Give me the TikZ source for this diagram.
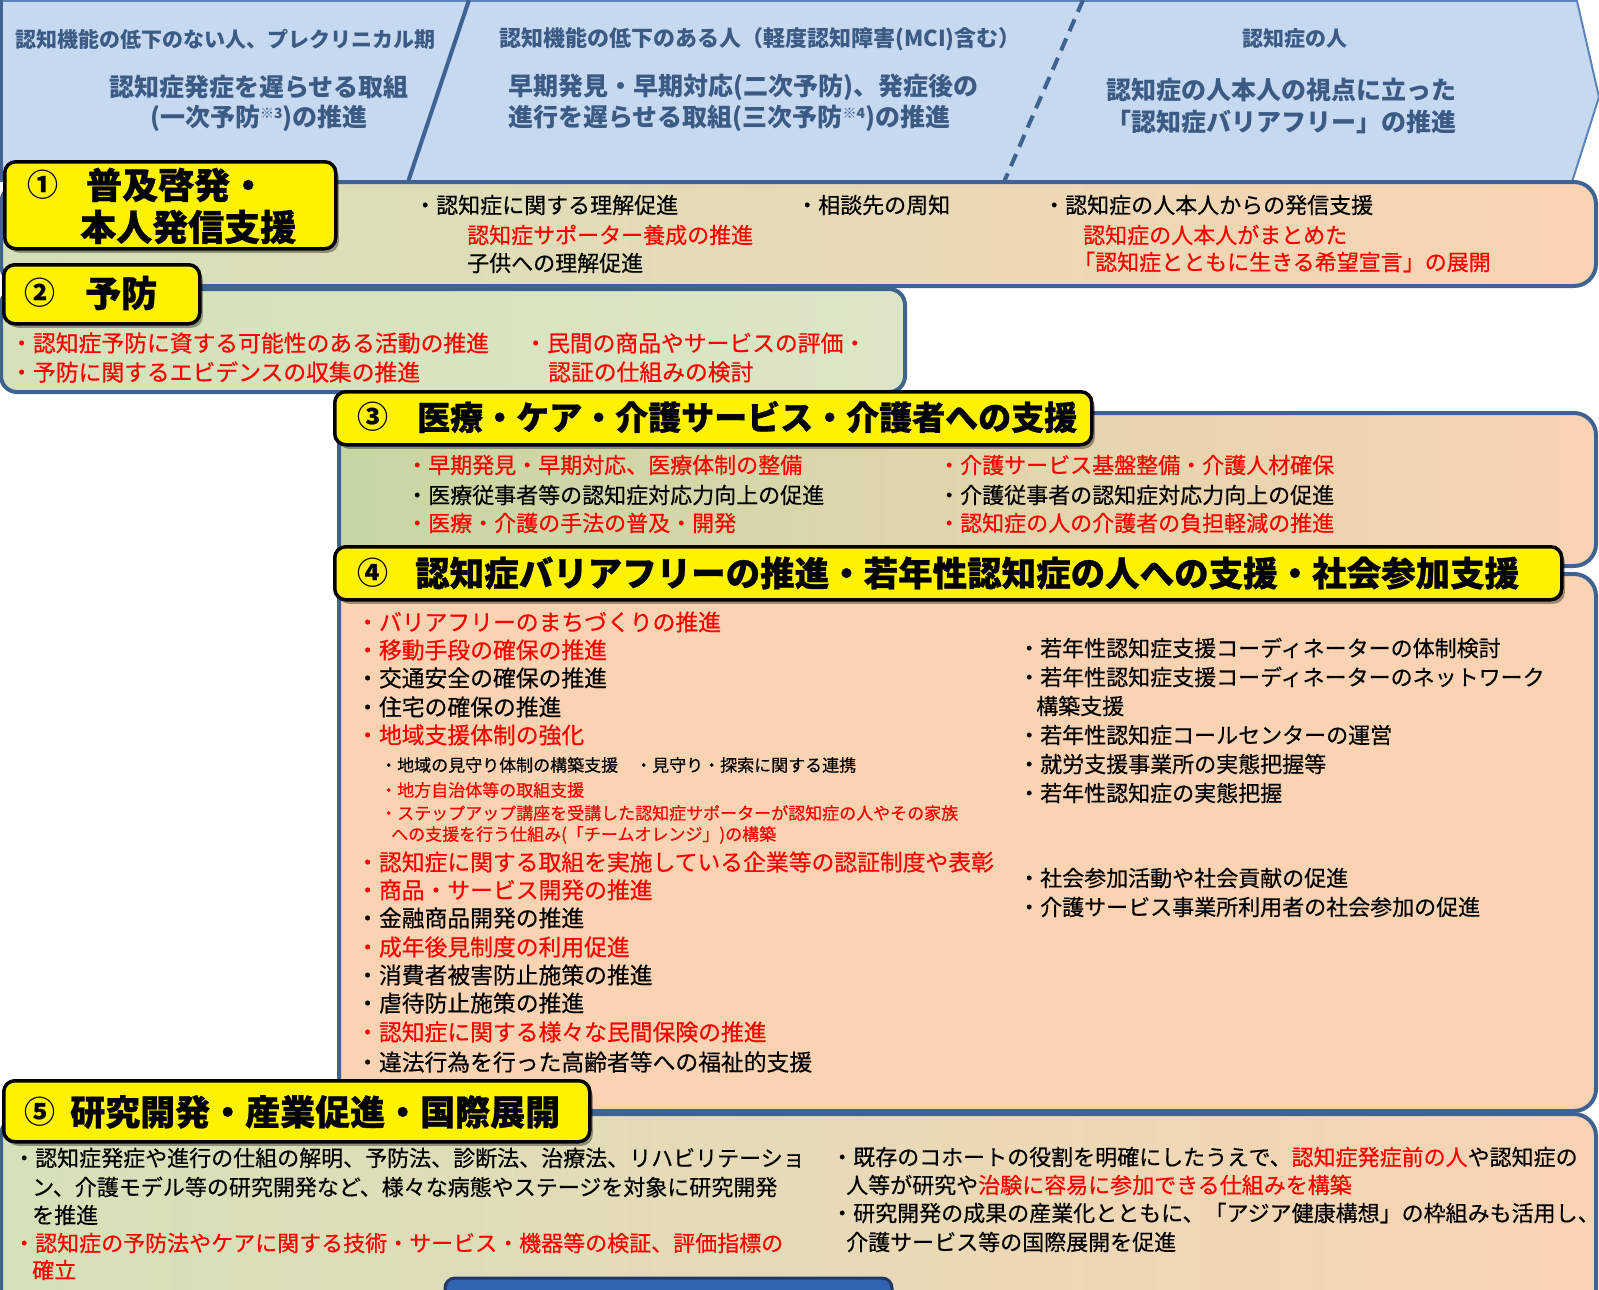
\documentclass[tikz,border=0pt]{standalone}
\usepackage{fontspec}
\newfontfamily\jp{Noto Sans CJK JP}
\newfontfamily\jpr{Noto Sans CJK JP}[FakeBold=0.5]
\newfontfamily\jpb{Noto Sans CJK JP}[BoldFeatures={FakeBold=0.8}]
\usetikzlibrary{shadows}
\definecolor{hdrfill}{HTML}{C6D9F1}
\definecolor{hdrtxt}{HTML}{3B5B85}
\definecolor{hdrline}{HTML}{5B84B8}
\definecolor{bord}{HTML}{3F6391}
\definecolor{grn}{HTML}{D4E1B9}
\definecolor{grnthree}{HTML}{C6D7A4}
\definecolor{grntwo}{HTML}{DCE6C6}
\definecolor{peach}{HTML}{FAD3B3}
\definecolor{txtred}{HTML}{FF0000}
\definecolor{boxblue}{HTML}{3163B0}
\definecolor{boxbord}{HTML}{1F3864}
\tikzset{
 panel/.style={draw=bord, line width=4pt, rounded corners=22pt},
 lblbox/.style={draw=black, line width=3.5pt, fill=yellow, rounded corners=11pt, anchor=north west, inner sep=0pt,
   drop shadow={shadow xshift=3pt, shadow yshift=-4pt, opacity=0.35, fill=black}},
 hd/.style={font=\jp\bfseries\fontsize{21pt}{21pt}\selectfont, text=hdrtxt, inner sep=0pt},
 hdb/.style={font=\jp\bfseries\fontsize{25pt}{25pt}\selectfont, text=hdrtxt, inner sep=0pt},
 lbltxt/.style={font=\jpb\bfseries\fontsize{36pt}{36pt}\selectfont, anchor=west, inner sep=0pt},
 lbltxtm/.style={font=\jpb\bfseries\fontsize{33pt}{33pt}\selectfont, anchor=west, inner sep=0pt},
 lblnum/.style={font=\jp\bfseries\fontsize{31pt}{31pt}\selectfont, inner sep=0pt},
 bd/.style={font=\jpr\fontsize{22pt}{22pt}\selectfont, anchor=west, inner sep=0pt},
 bdl/.style={font=\jpr\fontsize{22.8pt}{22.8pt}\selectfont, anchor=west, inner sep=0pt},
 rd/.style={bd, text=txtred},
 rdl/.style={bdl, text=txtred},
 sm/.style={font=\jpr\fontsize{17pt}{17pt}\selectfont, anchor=west, inner sep=0pt},
 smr/.style={sm, text=txtred},
}
\begin{document}
\begin{tikzpicture}[x=1pt,y=-1pt]
\useasboundingbox (0,0) rectangle (1599,1290);
% header band
\fill[hdrfill] (0,0) -- (1577,0) -- (1599,97) -- (1572,182) -- (0,182) -- cycle;
\draw[hdrline, line width=2pt] (0,1) -- (1577,1) -- (1599,97) -- (1572,182);
\draw[bord, line width=4pt] (1,0) -- (1,182);
\coordinate (d1a) at (469,0); \coordinate (d1b) at (408,182);
\coordinate (d2a) at (1083,0); \coordinate (d2b) at (1004,182);
\draw[bord, line width=4pt] (d1a) -- (d1b);
\draw[bord, line width=4pt, dash pattern=on 13pt off 8pt] (d2a) -- (d2b);
\node[hd] (h1) at (226,39) {認知機能の低下のない人、プレクリニカル期};
\node[hdb] (h2) at (259,87) {認知症発症を遅らせる取組};
\node[hdb] (h3) at (259,118) {(一次予防{\fontsize{14pt}{14pt}\selectfont\raisebox{8pt}{※3}})の推進};
\node[hd, font=\jp\bfseries\fontsize{22pt}{22pt}\selectfont] (h4) at (760,39) {認知機能の低下のある人（軽度認知障害(MCI)含む）};
\node[hdb, anchor=west] (h5) at (508,87) {早期発見・早期対応(二次予防)、発症後の};
\node[hdb, anchor=west] (h6) at (508,118) {進行を遅らせる取組(三次予防{\fontsize{14pt}{14pt}\selectfont\raisebox{8pt}{※4}})の推進};
\node[hd] (h7) at (1295,39) {認知症の人};
\node[hdb] (h8) at (1281,90) {認知症の人本人の視点に立った};
\node[hdb] (h9) at (1281,122) {「認知症バリアフリー」の推進};
% panels
\draw[panel, left color=grn, right color=peach] (1,182) rectangle (1596,286);
\draw[panel, left color=grn, right color=grntwo, rounded corners=16pt] (1,289) rectangle (905,392);
\draw[panel, left color=grnthree, right color=peach] (339,413) rectangle (1596,566);
\draw[panel, fill=peach] (339,574) rectangle (1596,1111);
\draw[panel, left color=grn, right color=peach] (1,1114) rectangle (1596,1340);
\draw[fill=boxblue, draw=boxbord, line width=3pt, rounded corners=10pt] (445,1278) rectangle (892,1330);
% labels
\node[lblbox, minimum width=331pt, minimum height=87pt] (l1) at (3,160) {};
\node[lblnum] (n1) at (43,185) {①};
\node[lbltxt] (l1a) at (86,185) {普及啓発・};
\node[lbltxt] (l1b) at (80,227) {本人発信支援};
\node[lblbox, minimum width=196pt, minimum height=59pt] (l2) at (2,263) {};
\node[lblnum] (n2) at (40,293) {②};
\node[lbltxt] (l2a) at (85,293) {予防};
\node[lblbox, minimum width=757pt, minimum height=53pt] (l3) at (333,390) {};
\node[lblnum] (n3) at (373,417) {③};
\node[lbltxtm] (l3a) at (417,417) {医療・ケア・介護サービス・介護者への支援};
\node[lblbox, minimum width=1227pt, minimum height=53pt] (l4) at (333,545) {};
\node[lblnum] (n4) at (373,573) {④};
\node[lbltxtm, font=\jpb\bfseries\fontsize{34.5pt}{34.5pt}\selectfont] (l4a) at (415,573) {認知症バリアフリーの推進・若年性認知症の人への支援・社会参加支援};
\node[lblbox, minimum width=586pt, minimum height=61pt] (l5) at (2,1079) {};
\node[lblnum] (n5) at (40,1112) {⑤};
\node[lbltxt, font=\jpb\bfseries\fontsize{35pt}{35pt}\selectfont] (l5a) at (70,1112) {研究開発・産業促進・国際展開};
% panel 1 text
\node[bd] (a1) at (414,205) {・認知症に関する理解促進};
\node[rd] (a2) at (467,235) {認知症サポーター養成の推進};
\node[bd] (a3) at (467,263) {子供への理解促進};
\node[bd] (a4) at (796,205) {・相談先の周知};
\node[bd] (a5) at (1043,205) {・認知症の人本人からの発信支援};
\node[rd] (a6) at (1083,235) {認知症の人本人がまとめた};
\node[rd] (a7) at (1073,262) {「認知症とともに生きる希望宣言」の展開};
% panel 2 text
\node[rdl] (b1) at (10,343) {・認知症予防に資する可能性のある活動の推進};
\node[rdl] (b2) at (10,372) {・予防に関するエビデンスの収集の推進};
\node[rdl] (b3) at (524,343) {・民間の商品やサービスの評価・};
\node[rdl] (b4) at (548,372) {認証の仕組みの検討};
% panel 3 text
\node[rd] (c1) at (406,465) {・早期発見・早期対応、医療体制の整備};
\node[bd] (c2) at (406,495) {・医療従事者等の認知症対応力向上の促進};
\node[rd] (c3) at (406,523) {・医療・介護の手法の普及・開発};
\node[rd] (c4) at (938,465) {・介護サービス基盤整備・介護人材確保};
\node[bd] (c5) at (938,495) {・介護従事者の認知症対応力向上の促進};
\node[rd] (c6) at (938,523) {・認知症の人の介護者の負担軽減の推進};
% panel 4 left
\node[rdl] (e1) at (356,622) {・バリアフリーのまちづくりの推進};
\node[rdl] (e2) at (356,650) {・移動手段の確保の推進};
\node[bdl] (e3) at (356,678) {・交通安全の確保の推進};
\node[bdl] (e4) at (356,707) {・住宅の確保の推進};
\node[rdl] (e5) at (356,735) {・地域支援体制の強化};
\node[sm] (e6) at (380,765) {・地域の見守り体制の構築支援　・見守り・探索に関する連携};
\node[smr] (e7) at (380,790) {・地方自治体等の取組支援};
\node[smr] (e8) at (380,813) {・ステップアップ講座を受講した認知症サポーターが認知症の人やその家族};
\node[smr] (e9) at (391,835) {への支援を行う仕組み(「チームオレンジ」)の構築};
\node[rdl] (e10) at (356,862) {・認知症に関する取組を実施している企業等の認証制度や表彰};
\node[rdl] (e11) at (356,890) {・商品・サービス開発の推進};
\node[bdl] (e12) at (356,918) {・金融商品開発の推進};
\node[rdl] (e13) at (356,947) {・成年後見制度の利用促進};
\node[bdl] (e14) at (356,975) {・消費者被害防止施策の推進};
\node[bdl] (e15) at (356,1003) {・虐待防止施策の推進};
\node[rdl] (e16) at (356,1032) {・認知症に関する様々な民間保険の推進};
\node[bdl] (e17) at (356,1062) {・違法行為を行った高齢者等への福祉的支援};
% panel 4 right
\node[bd] (f1) at (1018,648) {・若年性認知症支援コーディネーターの体制検討};
\node[bd] (f2) at (1018,677) {・若年性認知症支援コーディネーターのネットワーク};
\node[bd] (f3) at (1036,706) {構築支援};
\node[bd] (f4) at (1018,735) {・若年性認知症コールセンターの運営};
\node[bd] (f5) at (1018,764) {・就労支援事業所の実態把握等};
\node[bd] (f6) at (1018,793) {・若年性認知症の実態把握};
\node[bd] (f7) at (1018,878) {・社会参加活動や社会貢献の促進};
\node[bd] (f8) at (1018,907) {・介護サービス事業所利用者の社会参加の促進};
% panel 5
\node[bd] (g1) at (13,1158) {・認知症発症や進行の仕組の解明、予防法、診断法、治療法、リハビリテーショ};
\node[bd] (g2) at (32,1187) {ン、介護モデル等の研究開発など、様々な病態やステージを対象に研究開発};
\node[bd] (g3) at (32,1215) {を推進};
\node[rd] (g4) at (13,1243) {・認知症の予防法やケアに関する技術・サービス・機器等の検証、評価指標の};
\node[rd] (g5) at (32,1270) {確立};
\node[bd] (g6) at (831,1157) {・既存のコホートの役割を明確にしたうえで、{\color{txtred}認知症発症前の人}や認知症の};
\node[bd] (g7) at (846,1185) {人等が研究や{\color{txtred}治験に容易に参加できる仕組みを構築}};
\node[bd] (g8) at (831,1213) {・研究開発の成果の産業化とともに、「アジア健康構想」の枠組みも活用し、};
\node[bd] (g9) at (846,1242) {介護サービス等の国際展開を促進};
\end{tikzpicture}
\end{document}
